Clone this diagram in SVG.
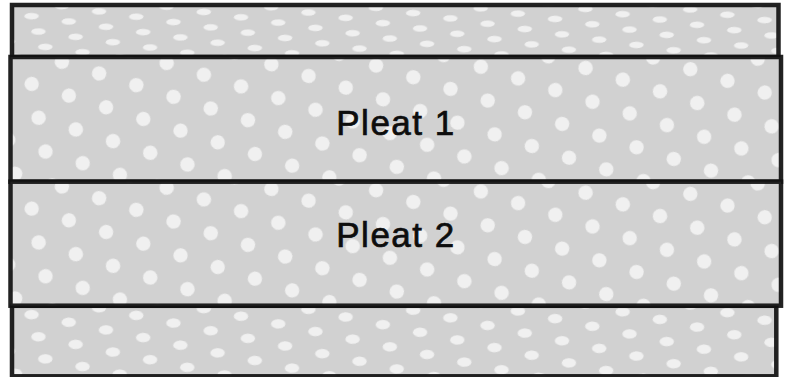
<svg xmlns="http://www.w3.org/2000/svg" width="787" height="377" viewBox="0 0 787 377">
  <style>
    .edge { stroke: #111111; stroke-width: 4.5; stroke-opacity: 0.93; stroke-linejoin: miter; }
    .label { font-family: "Liberation Sans", Arial, sans-serif; font-size: 35px; fill: #0d0d0d; stroke: #0d0d0d; stroke-width: 0.7px; text-anchor: middle; letter-spacing: 1.5px; }
    .dot { fill: #f0f0f0; }
  </style>
  <defs>
    <pattern id="dots" patternUnits="userSpaceOnUse" x="0" y="0" width="39" height="211.26" patternTransform="translate(21.2,27) rotate(17.42)">
      <rect width="39" height="211.26" fill="#d1d1d1"/>
      <circle class="dot" cx="0" cy="0" r="7.2"/>
      <circle class="dot" cx="39" cy="0" r="7.2"/>
      <circle class="dot" cx="0" cy="211.26" r="7.2"/>
      <circle class="dot" cx="39" cy="211.26" r="7.2"/>
      <circle class="dot" cx="16.7" cy="30.18" r="7.2"/>
      <circle class="dot" cx="33.4" cy="60.36" r="7.2"/>
      <circle class="dot" cx="-5.6" cy="60.36" r="7.2"/>
      <circle class="dot" cx="11.1" cy="90.54" r="7.2"/>
      <circle class="dot" cx="27.8" cy="120.72" r="7.2"/>
      <circle class="dot" cx="5.5" cy="150.9" r="7.2"/>
      <circle class="dot" cx="44.5" cy="150.9" r="7.2"/>
      <circle class="dot" cx="22.2" cy="181.08" r="7.2"/>
    </pattern>
    <pattern id="dotsTop" href="#dots" patternTransform="translate(241,17.3) scale(1,0.455) rotate(17.42)"/>
    <pattern id="dotsBot" href="#dots" patternTransform="translate(241,316.3) scale(1,0.655) rotate(17.42)"/>
  </defs>

  <g id="top-strip">
    <rect class="edge" x="12" y="5" width="766.5" height="52" fill="url(#dotsTop)"/>
  </g>

  <g id="bottom-strip">
    <rect class="edge" x="12" y="305.8" width="764.3" height="70.5" fill="url(#dotsBot)"/>
  </g>

  <g id="pleat-1" transform="translate(10.5,57)">
    <rect class="edge" x="0" y="0" width="770.5" height="124.7" fill="url(#dots)"/>
    <text class="label" x="385.5" y="78">Pleat 1</text>
  </g>

  <g id="pleat-2" transform="translate(10.5,181.7)">
    <rect x="1.5" y="116.6" width="765" height="5.8" fill="#000000" fill-opacity="0.12"/>
    <rect class="edge" x="0" y="0" width="770.5" height="124" fill="url(#dots)"/>
    <text class="label" x="385.5" y="65">Pleat 2</text>
  </g>

  <g id="connectors"/>
</svg>
